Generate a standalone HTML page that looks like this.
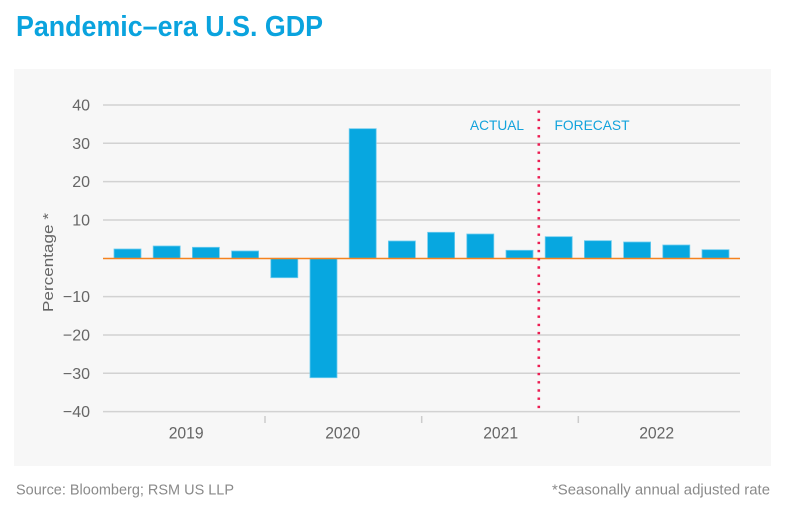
<!DOCTYPE html>
<html>
<head>
<meta charset="utf-8">
<style>
  html, body { margin: 0; padding: 0; background: #ffffff; }
  svg { display: block; }
  text { font-family: "Liberation Sans", "DejaVu Sans", sans-serif; }
</style>
</head>
<body>
<svg width="786" height="510" viewBox="0 0 786 510" xmlns="http://www.w3.org/2000/svg">
  <rect x="0" y="0" width="786" height="510" fill="#ffffff"/>
  <!-- Title -->
  <text x="16" y="36" font-size="29" font-weight="bold" fill="#0aa3de" textLength="307" lengthAdjust="spacingAndGlyphs">Pandemic–era U.S. GDP</text>

  <!-- Panel -->
  <rect x="14" y="69" width="757" height="397" fill="#f7f7f7"/>

  <!-- Gridlines -->
  <g stroke="#d2d2d2" stroke-width="1.5">
    <line x1="103" y1="105" x2="740" y2="105"/>
    <line x1="103" y1="143.3" x2="740" y2="143.3"/>
    <line x1="103" y1="181.6" x2="740" y2="181.6"/>
    <line x1="103" y1="220" x2="740" y2="220"/>
    <line x1="103" y1="296.6" x2="740" y2="296.6"/>
    <line x1="103" y1="335" x2="740" y2="335"/>
    <line x1="103" y1="373.3" x2="740" y2="373.3"/>
    <line x1="103" y1="411.6" x2="740" y2="411.6"/>
  </g>

  <!-- Y labels -->
  <g font-size="16" fill="#666666" text-anchor="end">
    <text x="90" y="110.5">40</text>
    <text x="90" y="148.8">30</text>
    <text x="90" y="187.1">20</text>
    <text x="90" y="225.5">10</text>
    <text x="90" y="302.1">−10</text>
    <text x="90" y="340.5">−20</text>
    <text x="90" y="378.8">−30</text>
    <text x="90" y="417.1">−40</text>
  </g>

  <!-- Y axis title -->
  <text transform="translate(53,262.5) rotate(-90)" font-size="15" fill="#666666" text-anchor="middle" textLength="99" lengthAdjust="spacingAndGlyphs">Percentage *</text>

  <!-- Bars -->
  <g fill="#07a7e0" stroke="#6ccbee" stroke-width="0.8">
    <rect x="114" y="249" width="27" height="9.3"/>
    <rect x="153.2" y="246" width="27" height="12.3"/>
    <rect x="192.4" y="247.3" width="27" height="11"/>
    <rect x="231.6" y="251" width="27" height="7.3"/>
    <rect x="270.8" y="258.3" width="27" height="19.4"/>
    <rect x="310" y="258.3" width="27" height="119.4"/>
    <rect x="349.2" y="128.7" width="27" height="129.6"/>
    <rect x="388.4" y="241" width="27" height="17.3"/>
    <rect x="427.6" y="232.3" width="27" height="26"/>
    <rect x="466.8" y="234" width="27" height="24.3"/>
    <rect x="506" y="250.3" width="27" height="8"/>
    <rect x="545.2" y="236.7" width="27" height="21.6"/>
    <rect x="584.4" y="240.7" width="27" height="17.6"/>
    <rect x="623.6" y="242" width="27" height="16.3"/>
    <rect x="662.8" y="245" width="27" height="13.3"/>
    <rect x="702" y="249.7" width="27" height="8.6"/>
  </g>

  <!-- Zero line -->
  <line x1="103" y1="258.5" x2="740" y2="258.5" stroke="#f5821f" stroke-width="1.6"/>

  <!-- Dotted divider -->
  <line x1="538.8" y1="110.5" x2="538.8" y2="411" stroke="#ec1c52" stroke-width="2.6" stroke-dasharray="2.4 5.8"/>

  <!-- ACTUAL / FORECAST -->
  <text x="470" y="130" font-size="14" fill="#12a3dc" textLength="54" lengthAdjust="spacingAndGlyphs">ACTUAL</text>
  <text x="554.5" y="130" font-size="14" fill="#12a3dc" textLength="75" lengthAdjust="spacingAndGlyphs">FORECAST</text>

  <!-- X ticks -->
  <g stroke="#cccccc" stroke-width="1.5">
    <line x1="265" y1="416" x2="265" y2="423"/>
    <line x1="421.7" y1="416" x2="421.7" y2="423"/>
    <line x1="578.3" y1="416" x2="578.3" y2="423"/>
  </g>

  <!-- X labels -->
  <g font-size="17" fill="#666666" text-anchor="middle">
    <text x="186.2" y="438.3" textLength="35" lengthAdjust="spacingAndGlyphs">2019</text>
    <text x="342.7" y="438.3" textLength="35" lengthAdjust="spacingAndGlyphs">2020</text>
    <text x="500.7" y="438.3" textLength="35" lengthAdjust="spacingAndGlyphs">2021</text>
    <text x="656.7" y="438.3" textLength="35" lengthAdjust="spacingAndGlyphs">2022</text>
  </g>

  <!-- Footer -->
  <text x="16" y="494.3" font-size="15" fill="#8a8a8a" textLength="218" lengthAdjust="spacingAndGlyphs">Source: Bloomberg; RSM US LLP</text>
  <text x="770" y="494.3" font-size="15" fill="#8a8a8a" text-anchor="end" textLength="218" lengthAdjust="spacingAndGlyphs">*Seasonally annual adjusted rate</text>
</svg>
</body>
</html>
